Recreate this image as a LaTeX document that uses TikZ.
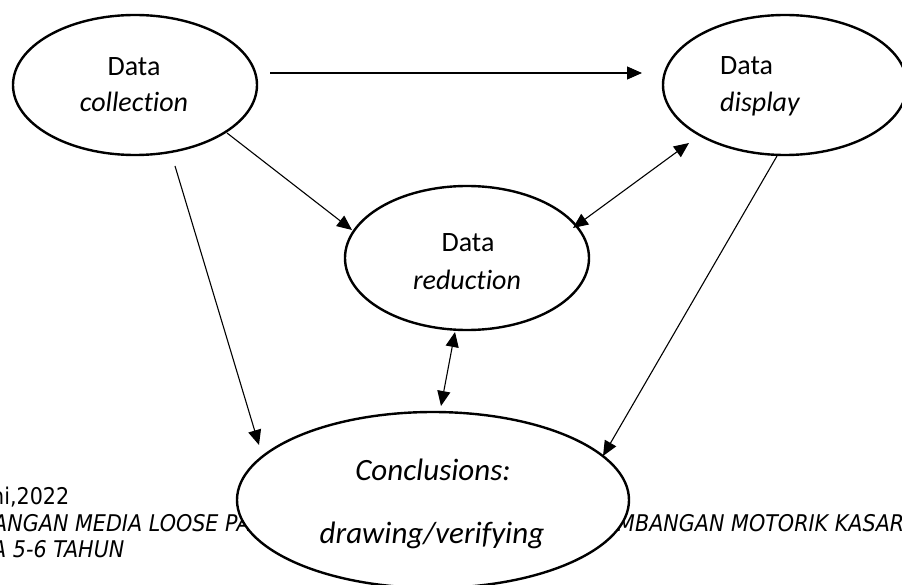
\documentclass[tikz,border=0pt]{standalone}
\usepackage{fontspec}
\setmainfont{Carlito}[Ligatures=NoCommon]
\newfontfamily\capfont[FakeStretch=0.9]{DejaVu Sans}
\usetikzlibrary{arrows.meta,shapes.geometric,calc}
\begin{document}
\begin{tikzpicture}[x=1pt,y=-1pt,
  oval/.style={draw,ellipse,line width=2.4pt,fill=white,inner sep=0pt,minimum width=244pt,minimum height=140pt},
  lab/.style={inner sep=0pt,anchor=base,font=\fontsize{28}{34}\selectfont},
  concl/.style={inner sep=0pt,anchor=base,font=\fontsize{31}{37}\selectfont\itshape},
  captext/.style={inner sep=0pt,anchor=base west,font=\capfont\fontsize{23}{27}\selectfont},
  capit/.style={captext,font=\capfont\fontsize{23}{27}\selectfont\itshape},
  arr/.style={line width=1.1pt,-{Triangle[length=15pt,width=13pt]}},
  darr/.style={line width=1.1pt,{Triangle[length=15pt,width=13pt]}-{Triangle[length=15pt,width=13pt]}}]
\useasboundingbox (0,0) rectangle (902,585);
\clip (0,0) rectangle (902,585);
% bottom caption fragments (partly hidden by the conclusions ellipse)
\node[captext] (t1) at (-9,504) {ni,2022};
\node[capit] (t2) at (-7,531) {ANGAN MEDIA LOOSE PA};
\node[capit] (t3) at (-8,557) {A 5-6 TAHUN};
\node[capit] (t4) at (617,531) {MBANGAN MOTORIK KASAR};
% ellipses
\node[oval] (coll) at (135,85) {};
\node[oval] (disp) at (785,85) {};
\node[oval,minimum height=144pt] (red) at (467,258) {};
\node[oval,minimum width=392pt,minimum height=176pt] (con) at (433,500) {};
% labels
\node[lab] (collA) at (134,76) {Data};
\node[lab] (collB) at (134,112) {\itshape collection};
\node[lab,anchor=base west] (dispA) at (720,75) {Data};
\node[lab,anchor=base west] (dispB) at (720,112) {\itshape display};
\node[lab] (redA) at (468,252) {Data};
\node[lab] (redB) at (467,290) {\itshape reduction};
\node[concl] (conA) at (433,480) {Conclusions:};
\node[concl] (conB) at (432,543) {drawing/verifying};
% connectors
\draw[arr] ($(coll.center)+(135,-12)$) -- ($(disp.center)+(-143,-12)$);
\draw[arr] ($(coll.center)+(92,48)$) -- ($(red.center)+(-115,-28)$);
\draw[arr] ($(coll.center)+(40,81)$) -- ($(con.center)+(-174,-55)$);
\draw[darr] ($(red.center)+(106,-30)$) -- ($(disp.center)+(-96,58)$);
\draw[arr] ($(disp.center)+(-8,71)$) -- ($(con.center)+(170,-44)$);
\draw[darr] ($(red.center)+(-12,74)$) -- ($(con.center)+(8,-94)$);
\end{tikzpicture}
\end{document}
